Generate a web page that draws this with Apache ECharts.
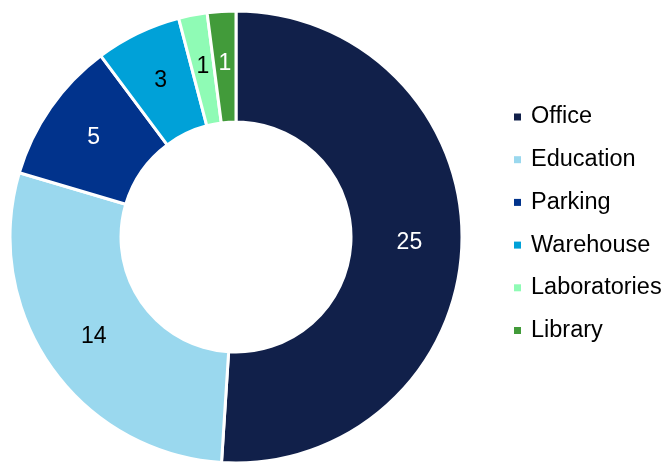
<!DOCTYPE html>
<html>
<head>
<meta charset="utf-8">
<script src="https://cdn.jsdelivr.net/npm/echarts@6/dist/echarts.min.js"></script>
<style>
    html, body { margin: 0; padding: 0; background: #fff; }
    #chart { width: 666px; height: 462px; }
</style>
</head>
<body>
<div id="chart"></div>
<script>
// data
var categories = ['Office', 'Education', 'Parking', 'Warehouse', 'Laboratories', 'Library'];
var counts = [25, 14, 5, 3, 1, 1];
var sliceColors = ['#11204a', '#9ad8ee', '#01338c', '#00a1d8', '#8ffbb5', '#429b3a'];
var labelColors = ['#ffffff', '#000000', '#ffffff', '#000000', '#000000', '#ffffff'];

var myChart = echarts.init(document.getElementById('chart'));

var pieData = [];
for (var i = 0; i < categories.length; i++) {
    pieData.push({
        name: categories[i],
        value: counts[i],
        itemStyle: { color: sliceColors[i] },
        label: { color: labelColors[i] }
    });
}

myChart.setOption({
    backgroundColor: '#ffffff',
    animation: false,
    legend: {
        orient: 'vertical',
        left: 509,
        top: 100,
        icon: 'rect',
        itemWidth: 7,
        itemHeight: 7,
        itemGap: 18.7,
        itemStyle: { borderWidth: 0 },
        textStyle: {
            fontFamily: 'Liberation Sans, Arial, sans-serif',
            fontSize: 23.5,
            color: '#000',
            padding: [0, 0, 0, 5]
        },
        data: categories
    },
    series: [{
        type: 'pie',
        center: [236, 237],
        radius: [115, 226],
        startAngle: 90,
        clockwise: true,
        avoidLabelOverlap: false,
        itemStyle: {
            borderColor: '#ffffff',
            borderWidth: 3
        },
        label: {
            show: true,
            position: 'inside',
            formatter: '{c}',
            fontFamily: 'Liberation Sans, Arial, sans-serif',
            fontSize: 23
        },
        labelLine: { show: false },
        emphasis: { disabled: true },
        data: pieData
    }]
});
</script>
</body>
</html>
